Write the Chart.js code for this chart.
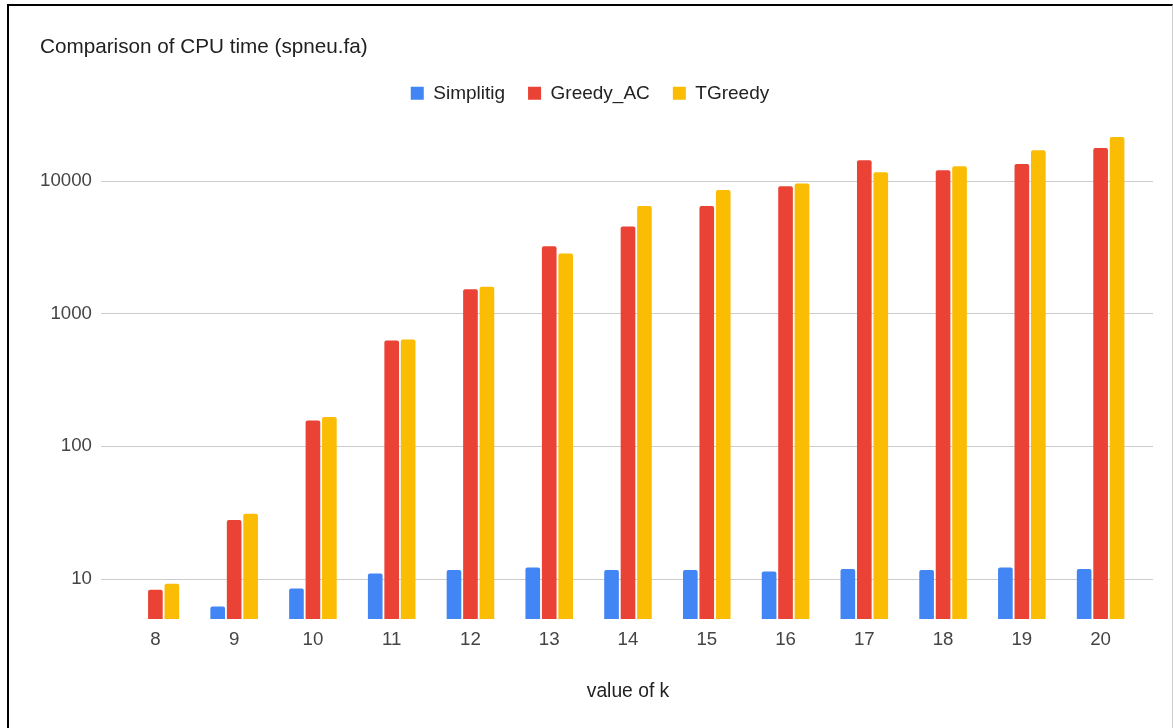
<!DOCTYPE html>
<html lang="en">
<head>
<meta charset="UTF-8">
<title>Comparison of CPU time (spneu.fa)</title>
<script src="https://cdn.jsdelivr.net/npm/chart.js@4.4.1/dist/chart.umd.min.js"></script>
<style>
    html, body {
        margin: 0;
        padding: 0;
        background: #fff;
    }

    .frame {
        position: absolute;
        left: 7px;
        top: 4px;
        width: 1163px;
        height: 724px;
        border-left: 2px solid #000;
        border-top: 2px solid #000;
        border-right: 1px solid #ccc;
    }

    .chart-box {
        position: relative;
        width: 1163px;
        height: 722px;
    }
</style>
</head>
<body>
<div class="frame">
    <div class="chart-box">
        <canvas id="cpuChart"></canvas>
    </div>
</div>

<script>
    // values of k on the x axis
    const kValues = ['8', '9', '10', '11', '12', '13', '14', '15', '16', '17', '18', '19', '20'];

    // CPU time per k (log scale)
    const simplitig = [null, 6.2, 8.5, 11.0, 11.7, 12.2, 11.7, 11.7, 11.4, 11.9, 11.7, 12.2, 11.9];
    const greedyAC  = [8.3, 27.8, 156, 624, 1520, 3200, 4500, 6440, 9060, 14200, 11950, 13350, 17600];
    const tGreedy   = [9.2, 31.0, 166, 635, 1590, 2820, 6440, 8500, 9500, 11550, 12800, 16900, 21300];

    // y axis labels
    const yTicks = [10, 100, 1000, 10000];

    const FONT = "'Liberation Sans', Arial, sans-serif";

    // draw the horizontal gridlines a little wider than the bar area
    const wideGrid = {
        id: 'wideGrid',
        beforeDatasetsDraw(chart) {
            const { ctx, chartArea, scales } = chart;
            const y = scales.y;
            ctx.save();
            ctx.strokeStyle = '#cccccc';
            ctx.lineWidth = 1;
            y.ticks.forEach((t, i) => {
                const py = Math.round(y.getPixelForTick(i)) + 0.5;
                ctx.beginPath();
                ctx.moveTo(chartArea.left - 15, py);
                ctx.lineTo(chartArea.right + 13, py);
                ctx.stroke();
            });
            ctx.restore();
        }
    };

    const ctx = document.getElementById('cpuChart').getContext('2d');

    new Chart(ctx, {
        type: 'bar',
        data: {
            labels: kValues,
            datasets: [{
                label: 'Simplitig',
                data: simplitig,
                backgroundColor: '#4285f4'
            }, {
                label: 'Greedy_AC',
                data: greedyAC,
                backgroundColor: '#ea4335'
            }, {
                label: 'TGreedy',
                data: tGreedy,
                backgroundColor: '#fbbc04'
            }]
        },
        options: {
            responsive: true,
            maintainAspectRatio: false,
            animation: false,
            layout: {
                padding: { left: 31, right: 32, top: 29, bottom: 25 }
            },
            datasets: {
                bar: {
                    categoryPercentage: 0.627,
                    barPercentage: 0.89,
                    borderRadius: { topLeft: 2, topRight: 2 },
                    borderSkipped: 'start'
                }
            },
            plugins: {
                title: {
                    display: true,
                    text: 'Comparison of CPU time (spneu.fa)',
                    align: 'start',
                    color: '#212121',
                    font: { family: FONT, size: 20.7, weight: 'normal' },
                    padding: { top: 0, bottom: 1 }
                },
                legend: {
                    display: true,
                    position: 'top',
                    labels: {
                        boxWidth: 13,
                        boxHeight: 13,
                        padding: 23,
                        color: '#222',
                        font: { family: FONT, size: 19 }
                    }
                },
                tooltip: { enabled: false }
            },
            scales: {
                x: {
                    grid: { display: false, drawTicks: false },
                    border: { display: false },
                    ticks: {
                        color: '#444',
                        padding: 10,
                        font: { family: FONT, size: 18.7 }
                    },
                    title: {
                        display: true,
                        text: 'value of k',
                        color: '#222',
                        padding: { top: 0, bottom: 0 },
                        font: { family: FONT, size: 19.3 }
                    },
                    afterFit(scale) {
                        scale.height = 84;
                    }
                },
                y: {
                    type: 'logarithmic',
                    min: 5,
                    max: 32350,
                    grid: { display: false, drawTicks: false },
                    border: { display: false },
                    ticks: {
                        color: '#444',
                        padding: 24,
                        font: { family: FONT, size: 18.7 },
                        callback: (v) => String(v)
                    },
                    afterBuildTicks(scale) {
                        scale.ticks = yTicks.map(v => ({ value: v }));
                    },
                    afterFit(scale) {
                        scale.width = 76;
                    }
                }
            }
        },
        plugins: [wideGrid]
    });
</script>
</body>
</html>
